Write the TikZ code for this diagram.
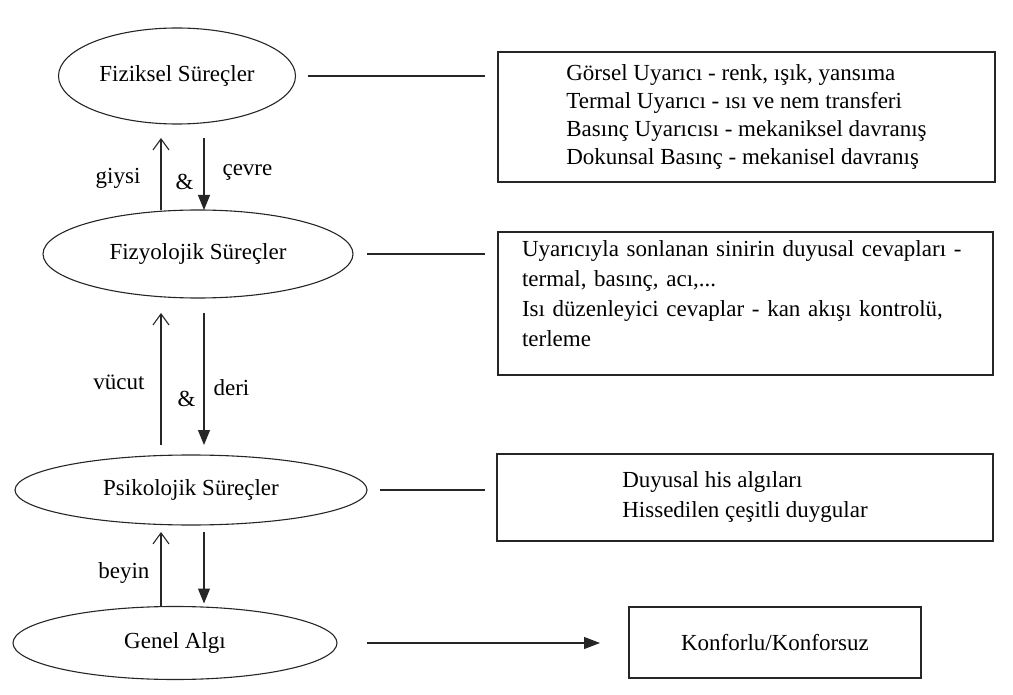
\documentclass[tikz,border=0pt]{standalone}
\usepackage{fontspec}
\setmainfont{Liberation Serif}
\usetikzlibrary{arrows.meta,shapes.geometric}

\begin{document}
\begin{tikzpicture}[
  x=1pt, y=-1pt,
  font=\fontsize{23}{28}\selectfont,
  process/.style={
    ellipse,
    draw=black!85,
    line width=1.1pt,
    inner sep=0pt,
    outer sep=0pt
  },
  detail/.style={
    draw=black!85,
    line width=1.2pt,
    inner sep=0pt,
    outer sep=0pt,
    align=left
  },
  tag/.style={inner sep=0pt},
  link/.style={draw=black!85,line width=1.1pt},
  upflow/.style={link,-{Straight Barb[length=11pt,width=16pt]}},
  downflow/.style={link,-{Triangle[length=15pt,width=12pt]}},
  outcome/.style={link,-{Triangle[length=16pt,width=12pt]}}
]
  \useasboundingbox (0,0) rectangle (1013,695);

  \node[process,minimum width=237pt,minimum height=96pt] (fiziksel) at (177,76) {Fiziksel Süreçler};
  \node[process,minimum width=310pt,minimum height=88pt] (fizyolojik) at (198,254) {Fizyolojik Süreçler};
  \node[process,minimum width=352pt,minimum height=70pt] (psikolojik) at (191,490) {Psikolojik Süreçler};
  \node[process,minimum width=324pt,minimum height=73pt] (genel) at (175,643) {Genel Algı};

  \node[detail,minimum width=497pt,minimum height=130pt] (fizikselbox) at (746.5,117) {
    Görsel Uyarıcı - renk, ışık, yansıma\\
    Termal Uyarıcı - ısı ve nem transferi\\
    Basınç Uyarıcısı - mekaniksel davranış\\
    Dokunsal Basınç - mekanisel davranış
  };

  \node[detail,text width=447pt,text depth=110pt,minimum width=495pt,minimum height=143pt,
        font=\fontsize{23}{30}\selectfont] (fizyolojikbox) at (745.5,303.5) {
    Uyarıcıyla sonlanan sinirin duyusal cevapları -\\
    termal, basınç, acı,...\\
    Isı düzenleyici cevaplar - kan akışı kontrolü,\\
    terleme
  };

  \node[detail,minimum width=496pt,minimum height=87pt,
        font=\fontsize{23}{30}\selectfont] (psikolojikbox) at (745,497.5) {
    Duyusal his algıları\\
    Hissedilen çeşitli duygular
  };

  \node[detail,align=center,minimum width=292pt,minimum height=71pt] (sonuc) at (775,642.5) {Konforlu/Konforsuz};

  \coordinate (upline) at (161,0);
  \coordinate (downline) at (204,0);

  \draw[link,shorten <=12pt,shorten >=13pt] (fiziksel.east) -- (fiziksel.east -| fizikselbox.west);
  \draw[link,shorten <=14pt,shorten >=13pt] (fizyolojik.east) -- (fizyolojik.east -| fizyolojikbox.west);
  \draw[link,shorten <=13pt,shorten >=12pt] (psikolojik.east) -- (psikolojik.east -| psikolojikbox.west);
  \draw[outcome,shorten <=30pt,shorten >=29pt] (genel.east) -- (genel.east -| sonuc.west);

  \draw[upflow,shorten >=14pt] (upline |- fizyolojik.north) -- (upline |- fiziksel.south)
    node[tag,pos=.37,left=20pt] {giysi}
    node[tag,pos=.33,right=14pt] {\&};
  \draw[downflow,shorten <=14pt] (downline |- fiziksel.south) -- (downline |- fizyolojik.north)
    node[tag,pos=.56,right=18pt] {çevre};

  \draw[upflow,shorten <=10pt,shorten >=15pt] (upline |- psikolojik.north) -- (upline |- fizyolojik.south)
    node[tag,pos=.46,left=16pt] {vücut}
    node[tag,pos=.36,right=16pt] {\&};
  \draw[downflow,shorten <=15pt,shorten >=10pt] (downline |- fizyolojik.south) -- (downline |- psikolojik.north)
    node[tag,pos=.57,right=9pt] {deri};

  \draw[upflow,shorten <=1pt,shorten >=7pt] (upline |- genel.north) -- (upline |- psikolojik.south)
    node[tag,pos=.41,left=11pt] {beyin};
  \draw[downflow,shorten <=7pt,shorten >=3pt] (downline |- psikolojik.south) -- (downline |- genel.north);
\end{tikzpicture}
\end{document}
